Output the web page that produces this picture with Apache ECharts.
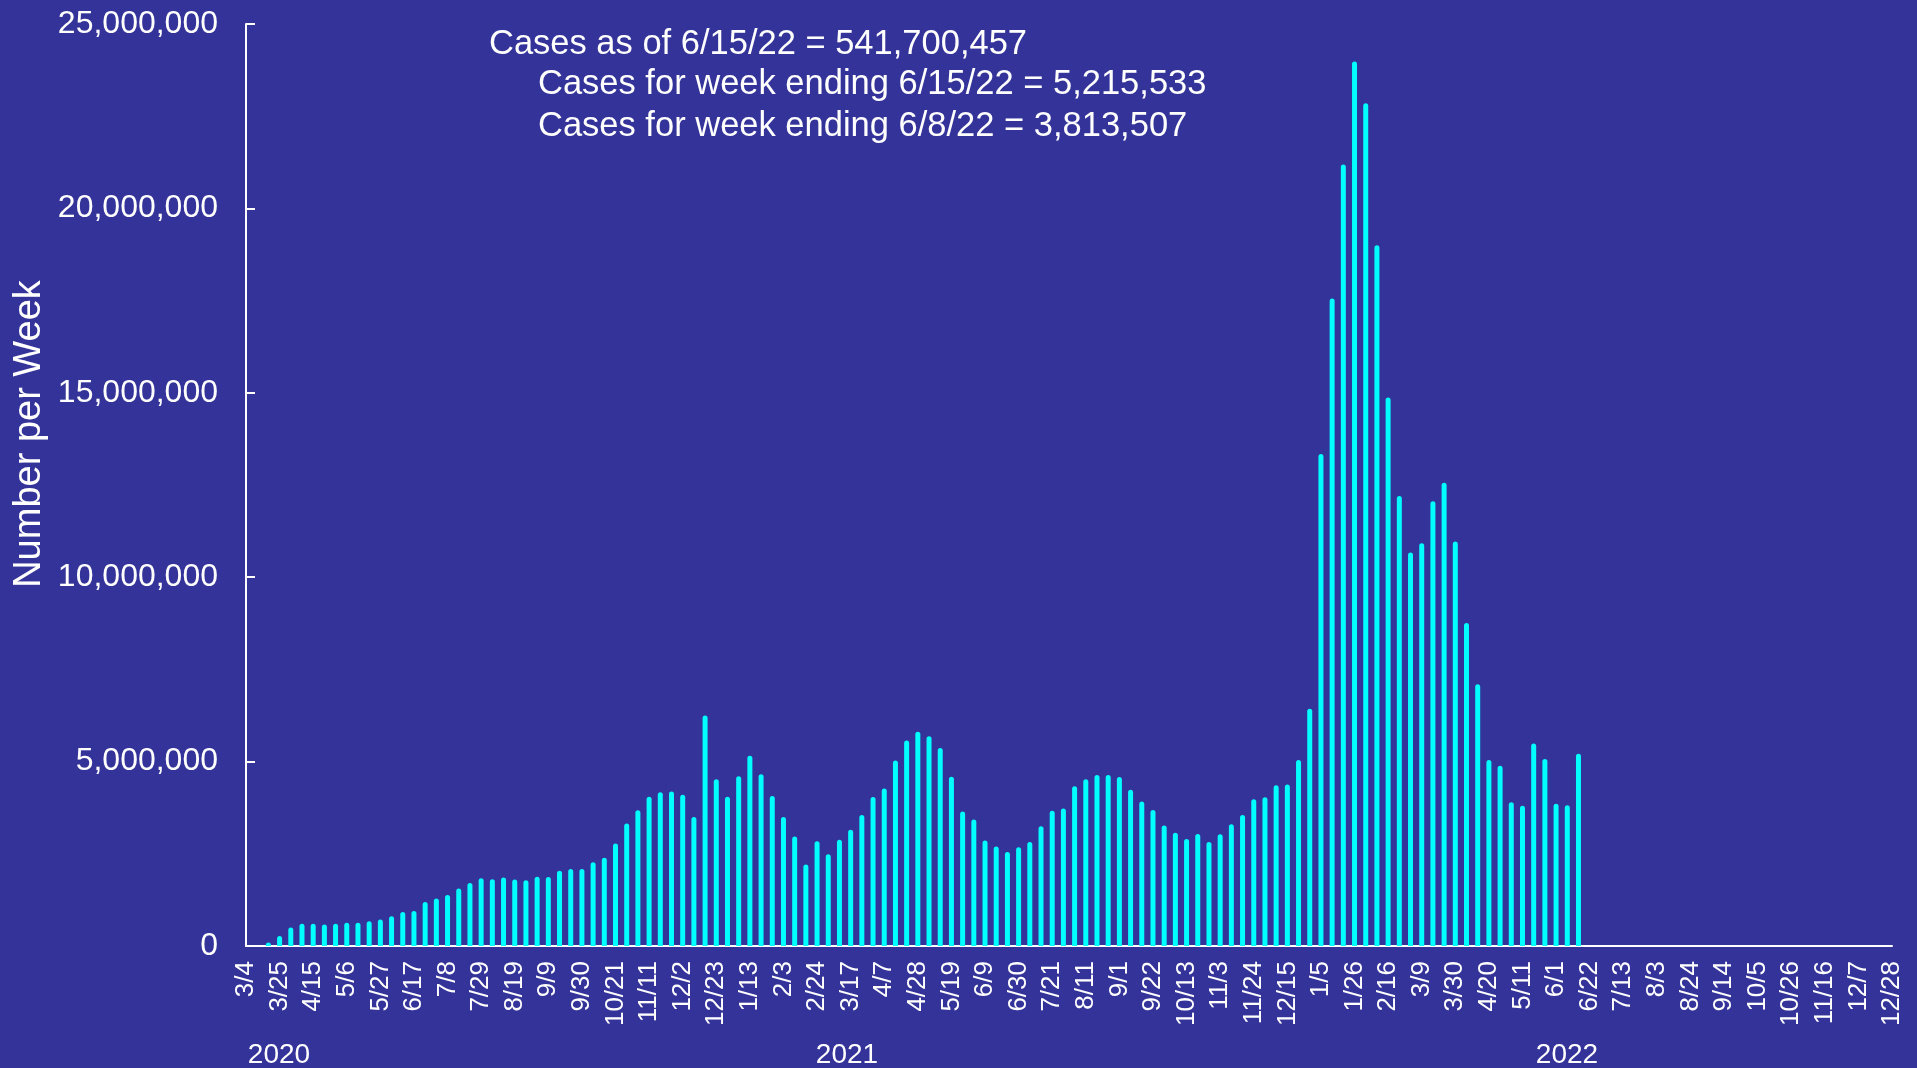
<!DOCTYPE html>
<html>
<head>
<meta charset="utf-8">
<script src="https://cdn.jsdelivr.net/npm/echarts@6/dist/echarts.min.js"></script>
<style>
html,body{margin:0;padding:0;background:#333399;}
#chart{width:1917px;height:1068px;}
</style>
</head>
<body>
<div id="chart"></div>
<script>
// Week-ending dates (3/4/2020 .. 12/28/2022)
var weeks2020 = ['3/4','3/11','3/18','3/25','4/1','4/8','4/15','4/22','4/29','5/6','5/13','5/20','5/27','6/3','6/10','6/17','6/24','7/1','7/8','7/15','7/22','7/29','8/5','8/12','8/19','8/26','9/2','9/9','9/16','9/23','9/30','10/7','10/14','10/21','10/28','11/4','11/11','11/18','11/25','12/2','12/9','12/16','12/23','12/30'];
var weeks2021 = ['1/6','1/13','1/20','1/27','2/3','2/10','2/17','2/24','3/3','3/10','3/17','3/24','3/31','4/7','4/14','4/21','4/28','5/5','5/12','5/19','5/26','6/2','6/9','6/16','6/23','6/30','7/7','7/14','7/21','7/28','8/4','8/11','8/18','8/25','9/1','9/8','9/15','9/22','9/29','10/6','10/13','10/20','10/27','11/3','11/10','11/17','11/24','12/1','12/8','12/15','12/22','12/29'];
var weeks2022 = ['1/5','1/12','1/19','1/26','2/2','2/9','2/16','2/23','3/2','3/9','3/16','3/23','3/30','4/6','4/13','4/20','4/27','5/4','5/11','5/18','5/25','6/1','6/8','6/15','6/22','6/29','7/6','7/13','7/20','7/27','8/3','8/10','8/17','8/24','8/31','9/7','9/14','9/21','9/28','10/5','10/12','10/19','10/26','11/2','11/9','11/16','11/23','11/30','12/7','12/14','12/21','12/28'];

// Weekly cases
var cases2020 = [0,0,95000,270000,500000,600000,600000,580000,600000,630000,630000,670000,720000,810000,920000,950000,1190000,1290000,1380000,1560000,1710000,1840000,1810000,1860000,1800000,1780000,1880000,1870000,2040000,2090000,2090000,2270000,2390000,2780000,3320000,3680000,4050000,4170000,4190000,4100000,3500000,6250000,4520000,4050000];
var cases2021 = [4600000,5160000,4660000,4070000,3500000,2970000,2210000,2840000,2490000,2880000,3150000,3550000,4040000,4270000,5030000,5570000,5810000,5690000,5370000,4590000,3650000,3430000,2860000,2700000,2550000,2680000,2820000,3250000,3670000,3730000,4330000,4520000,4640000,4640000,4580000,4240000,3920000,3690000,3270000,3070000,2900000,3040000,2820000,3030000,3300000,3550000,3980000,4030000,4360000,4380000,5040000,6430000];
var cases2022 = [13340000,17560000,21190000,23980000,22850000,19000000,14870000,12200000,10670000,10920000,12060000,12560000,10970000,8760000,7100000,5040000,4890000,3900000,3800000,5490000,5070000,3860000,3813507,5215533];

var yearLabels = ['2020','2021','2022'];
var noteLines = [
  'Cases as of 6/15/22 = 541,700,457',
  'Cases for week ending 6/15/22 = 5,215,533',
  'Cases for week ending 6/8/22 = 3,813,507'
];
var yTitle = 'Number per Week';

var categories = weeks2020.concat(weeks2021, weeks2022);
var values = cases2020.concat(cases2021, cases2022);

var FONT = 'Liberation Sans, Arial, sans-serif';
var chart = echarts.init(document.getElementById('chart'), null, {renderer:'canvas'});
chart.setOption({
  backgroundColor: '#333399',
  animation: false,
  grid: {left: 246, right: 25, top: 24, bottom: 122, containLabel: false},
  xAxis: {
    type: 'category',
    data: categories,
    boundaryGap: false,
    axisLine: {lineStyle: {color: '#ffffff', width: 2}},
    axisTick: {show: false},
    axisLabel: {interval: 2, rotate: 90, color: '#ffffff', fontSize: 26, fontFamily: FONT, margin: 15}
  },
  yAxis: {
    type: 'value',
    min: 0, max: 25000000, interval: 5000000,
    axisLine: {show: true, lineStyle: {color: '#ffffff', width: 2}},
    axisTick: {show: true, inside: true, length: 9, lineStyle: {color: '#ffffff', width: 2}},
    splitLine: {show: false},
    axisLabel: {
      color: '#ffffff', fontSize: 32, fontFamily: FONT, margin: 28, padding: [5, 0, 0, 0],
      formatter: function (v) { return v.toLocaleString('en-US'); }
    }
  },
  series: [{
    type: 'bar',
    data: values,
    barWidth: 5,
    itemStyle: {color: '#00FFFF', borderRadius: [2.5, 2.5, 0, 0]},
    clip: false
  }],
  graphic: [
    {type: 'text', x: 30, y: 434, rotation: Math.PI / 2,
     style: {text: yTitle, fill: '#ffffff', font: '38px ' + FONT, textAlign: 'center', textVerticalAlign: 'middle'}},
    {type: 'text', x: 489, y: 44,
     style: {text: noteLines[0], fill: '#ffffff', font: '34.5px ' + FONT, textAlign: 'left', textVerticalAlign: 'middle'}},
    {type: 'text', x: 538, y: 84,
     style: {text: noteLines[1], fill: '#ffffff', font: '34.5px ' + FONT, textAlign: 'left', textVerticalAlign: 'middle'}},
    {type: 'text', x: 538, y: 126,
     style: {text: noteLines[2], fill: '#ffffff', font: '34.5px ' + FONT, textAlign: 'left', textVerticalAlign: 'middle'}},
    {type: 'text', x: 279, y: 1055,
     style: {text: yearLabels[0], fill: '#ffffff', font: '28px ' + FONT, textAlign: 'center', textVerticalAlign: 'middle'}},
    {type: 'text', x: 847, y: 1055,
     style: {text: yearLabels[1], fill: '#ffffff', font: '28px ' + FONT, textAlign: 'center', textVerticalAlign: 'middle'}},
    {type: 'text', x: 1567, y: 1055,
     style: {text: yearLabels[2], fill: '#ffffff', font: '28px ' + FONT, textAlign: 'center', textVerticalAlign: 'middle'}}
  ]
});
</script>
</body>
</html>
